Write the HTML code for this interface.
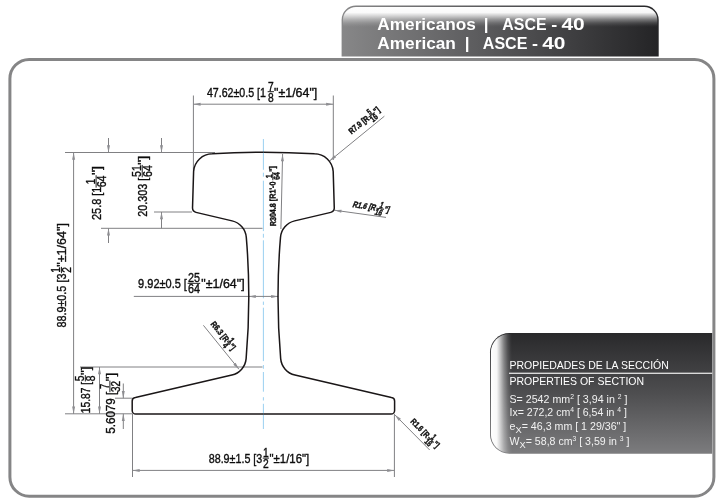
<!DOCTYPE html>
<html>
<head>
<meta charset="utf-8">
<title>ASCE - 40</title>
<style>
html,body{margin:0;padding:0;background:#fff;}
body{width:720px;height:503px;overflow:hidden;}
svg{display:block;will-change:transform;}
text{font-family:"Liberation Sans",sans-serif;}
.dim{fill:#0d0d0d;font-size:12.2px;stroke:#0d0d0d;stroke-width:0.36px;}
.dim rect,.sm rect{stroke:none;}
.sm{fill:#0d0d0d;font-size:8.5px;font-weight:bold;stroke:#0d0d0d;stroke-width:0.42px;}
.ln{stroke:#808083;stroke-width:1;fill:none;}
.ar{fill:#8e8e92;stroke:none;}
.prop{fill:#fff;font-size:10.5px;}
.pv{fill:#f2f2f2;font-size:10.2px;}
</style>
</head>
<body>
<svg width="720" height="503" viewBox="0 0 720 503">
<defs>
  <linearGradient id="gTab" x1="0" y1="0" x2="1" y2="0">
    <stop offset="0" stop-color="#878788"/>
    <stop offset="0.45" stop-color="#5a5a5c"/>
    <stop offset="1" stop-color="#242426"/>
  </linearGradient>
  <linearGradient id="gTabHi" x1="0" y1="0" x2="0" y2="1">
    <stop offset="0" stop-color="#fff" stop-opacity="1"/>
    <stop offset="0.28" stop-color="#fff" stop-opacity="0.96"/>
    <stop offset="0.45" stop-color="#fff" stop-opacity="0.68"/>
    <stop offset="0.62" stop-color="#fff" stop-opacity="0.38"/>
    <stop offset="0.8" stop-color="#fff" stop-opacity="0.14"/>
    <stop offset="0.92" stop-color="#fff" stop-opacity="0.04"/>
    <stop offset="1" stop-color="#fff" stop-opacity="0"/>
  </linearGradient>
  <linearGradient id="gBox" x1="0" y1="0" x2="0" y2="1">
    <stop offset="0" stop-color="#29292b"/>
    <stop offset="0.5" stop-color="#4e4e50"/>
    <stop offset="1" stop-color="#7c7c7e"/>
  </linearGradient>
  <linearGradient id="gBoxHi" x1="0" y1="0" x2="1" y2="0">
    <stop offset="0" stop-color="#fff" stop-opacity="1"/>
    <stop offset="0.28" stop-color="#fff" stop-opacity="0.96"/>
    <stop offset="0.45" stop-color="#fff" stop-opacity="0.68"/>
    <stop offset="0.62" stop-color="#fff" stop-opacity="0.38"/>
    <stop offset="0.8" stop-color="#fff" stop-opacity="0.14"/>
    <stop offset="0.92" stop-color="#fff" stop-opacity="0.04"/>
    <stop offset="1" stop-color="#fff" stop-opacity="0"/>
  </linearGradient>
  <path id="ah" d="M0,0 L7.2,-1.5 L7.2,1.5 Z"/>
</defs>

<!-- header tab -->
<g id="tab">
  <path d="M341.6,56.5 V20 A14.4,14.4 0 0 1 356,5.6 H644.3 A14.4,14.4 0 0 1 658.7,20 V56.5 Z" fill="url(#gTab)"/>
  <path d="M342.9,27 V20 A13.1,13.1 0 0 1 356,6.9 H644.3 A13.1,13.1 0 0 1 657.4,20 V27 Z" fill="url(#gTabHi)"/>
<g font-size="17" font-weight="bold" fill="#fff" lengthAdjust="spacingAndGlyphs">
    <text x="377.3" y="29.7" textLength="98.6" lengthAdjust="spacingAndGlyphs">Americanos</text>
    <text x="483.8" y="29.7">|</text>
    <text x="502.3" y="29.7" textLength="44.2" lengthAdjust="spacingAndGlyphs">ASCE</text>
    <text x="551.3" y="29.7" textLength="6" lengthAdjust="spacingAndGlyphs">-</text>
    <text x="561.4" y="29.7" textLength="23.3" lengthAdjust="spacingAndGlyphs">40</text>
    <text x="377.3" y="48.6" textLength="78.6" lengthAdjust="spacingAndGlyphs">American</text>
    <text x="464.7" y="48.6">|</text>
    <text x="482.8" y="48.6" textLength="44.6" lengthAdjust="spacingAndGlyphs">ASCE</text>
    <text x="532.1" y="48.6" textLength="6" lengthAdjust="spacingAndGlyphs">-</text>
    <text x="542.2" y="48.6" textLength="23.3" lengthAdjust="spacingAndGlyphs">40</text>
  </g>
</g>

<!-- outer frame -->
<rect x="9.9" y="59.4" width="704" height="436.8" rx="19.3" ry="19.3" fill="none" stroke="#858586" stroke-width="3"/>

<!-- properties box -->
<g id="props">
  <path d="M712.2,333 H509.4 A19.4,19.4 0 0 0 490,352.4 V434.4 A19.4,19.4 0 0 0 509.4,453.8 H712.2 Z" fill="url(#gBox)"/>
  <path d="M512,333.9 H509.4 A18.5,18.5 0 0 0 490.9,352.4 V434.4 A18.5,18.5 0 0 0 509.4,452.9 H512 Z" fill="url(#gBoxHi)"/>
  <text class="prop" x="509.5" y="368.7">PROPIEDADES DE LA SECCIÓN</text>
  <rect x="509" y="372.7" width="203.2" height="1.1" fill="#fff"/>
  <text class="prop" x="509.5" y="384.5">PROPERTIES OF SECTION</text>
  <text class="pv" x="509.5" y="402.5" textLength="118" lengthAdjust="spacingAndGlyphs">S= 2542 mm<tspan font-size="6.5" dy="-3.5">2</tspan><tspan dy="3.5"> [ 3,94 in </tspan><tspan font-size="6.5" dy="-3.5">2</tspan><tspan dy="3.5"> ]</tspan></text>
  <text class="pv" x="509.5" y="415.8" textLength="117.5" lengthAdjust="spacingAndGlyphs">Ix= 272,2 cm<tspan font-size="6.5" dy="-3.5">4</tspan><tspan dy="3.5"> [ 6,54 in </tspan><tspan font-size="6.5" dy="-3.5">4</tspan><tspan dy="3.5"> ]</tspan></text>
  <text class="pv" x="509.5" y="429.5" textLength="116.8" lengthAdjust="spacingAndGlyphs">e<tspan font-size="9" dy="3">X</tspan><tspan dy="-3">= 46,3 mm [ 1 29/36" ]</tspan></text>
  <text class="pv" x="509.5" y="444.5" textLength="120" lengthAdjust="spacingAndGlyphs">W<tspan font-size="9" dy="3">X</tspan><tspan dy="-3">= 58,8 cm</tspan><tspan font-size="6.5" dy="-3.5">3</tspan><tspan dy="3.5"> [ 3,59 in </tspan><tspan font-size="6.5" dy="-3.5">3</tspan><tspan dy="3.5"> ]</tspan></text>
</g>

<!-- DRAWING -->
<g id="drawing">
  <!-- centerline -->
  <path d="M263.4,139V169.8 M263.4,172.7V176.7 M263.4,180.7V231.1 M263.4,233.8V237.7 M263.4,240.3V298.3 M263.4,301.6V304.9 M263.4,307.7V361.1 M263.4,365V368.8 M263.4,372V391.7 M263.4,397.2V400.5 M263.4,403.8V429" stroke="#8fcbee" stroke-width="0.9" fill="none"/>

  <!-- extension & dimension lines -->
  <g class="ln">
    <!-- top width -->
    <line x1="193.4" y1="95.5" x2="193.4" y2="171"/>
    <line x1="333.3" y1="95.5" x2="333.3" y2="160"/>
    <line x1="193.4" y1="104.2" x2="333.3" y2="104.2"/>
    <!-- top horizontal ext -->
    <line x1="65" y1="152.5" x2="215" y2="152.5"/>
    <!-- overall height -->
    <line x1="73.6" y1="152.5" x2="73.6" y2="413.8"/>
    <!-- bottom horizontal ext -->
    <line x1="65" y1="413.8" x2="132.5" y2="413.8"/>
    <!-- 25.8 -->
    <line x1="108.5" y1="138" x2="108.5" y2="152.5"/>
    <line x1="108.5" y1="228.3" x2="108.5" y2="243"/>
    <line x1="101" y1="228.3" x2="262.5" y2="228.3"/>
    <!-- 20.303 -->
    <line x1="161.5" y1="138" x2="161.5" y2="152.5"/>
    <line x1="161.5" y1="212" x2="161.5" y2="228.3"/>
    <line x1="154" y1="212" x2="192" y2="212"/>
    <!-- web -->
    <line x1="133.8" y1="296.4" x2="248.6" y2="296.4"/>
    <line x1="248.6" y1="296.4" x2="278.3" y2="296.4"/>
    <!-- 15.87 -->
    <line x1="80" y1="367" x2="262.5" y2="367"/>
    <line x1="99.5" y1="367" x2="99.5" y2="413.8"/>
    <!-- 5.6079 -->
    <line x1="115" y1="398.2" x2="132.5" y2="398.2"/>
    <line x1="123.3" y1="383.5" x2="123.3" y2="398.2"/>
    <line x1="123.3" y1="413.8" x2="123.3" y2="429"/>
    <!-- bottom width -->
    <line x1="132.5" y1="413.8" x2="132.5" y2="477"/>
    <line x1="394.4" y1="413.8" x2="394.4" y2="477"/>
    <line x1="132.5" y1="470.4" x2="394.4" y2="470.4"/>
    <!-- leaders -->
    <line x1="329.5" y1="161" x2="384.4" y2="116.2"/>
    <line x1="334.3" y1="210.2" x2="386" y2="217.4"/>
    <line x1="203.4" y1="325.3" x2="239" y2="369.3"/>
    <line x1="394.8" y1="414.8" x2="429.7" y2="450"/>
    <line x1="282.6" y1="154" x2="280.9" y2="229"/>
  </g>
  <!-- arrowheads -->
  <g class="ar">
    <use href="#ah" transform="translate(193.4,104.2)"/>
    <use href="#ah" transform="translate(333.3,104.2) rotate(180)"/>
    <use href="#ah" transform="translate(73.6,152.5) rotate(90)"/>
    <use href="#ah" transform="translate(73.6,413.8) rotate(-90)"/>
    <use href="#ah" transform="translate(108.5,152.5) rotate(-90)"/>
    <use href="#ah" transform="translate(108.5,228.3) rotate(90)"/>
    <use href="#ah" transform="translate(161.5,152.5) rotate(-90)"/>
    <use href="#ah" transform="translate(161.5,212) rotate(90)"/>
    <use href="#ah" transform="translate(248.6,296.4)"/>
    <use href="#ah" transform="translate(278.3,296.4) rotate(180)"/>
    <use href="#ah" transform="translate(99.5,367) rotate(90)"/>
    <use href="#ah" transform="translate(99.5,413.8) rotate(-90)"/>
    <use href="#ah" transform="translate(123.3,398.2) rotate(-90)"/>
    <use href="#ah" transform="translate(123.3,413.8) rotate(90)"/>
    <use href="#ah" transform="translate(132.5,470.4)"/>
    <use href="#ah" transform="translate(394.4,470.4) rotate(180)"/>
    <use href="#ah" transform="translate(329.5,161) rotate(-39.2)"/>
    <use href="#ah" transform="translate(334.3,210.2) rotate(8)"/>
    <use href="#ah" transform="translate(239,369.3) rotate(-129)"/>
    <use href="#ah" transform="translate(394.8,414.8) rotate(45.2)"/>
    <use href="#ah" transform="translate(282.6,154) rotate(91.3)"/>
  </g>

  <!-- rail profile -->
  <g fill="none" stroke="#1a1617" stroke-width="1.5" stroke-linejoin="round">
    <path id="half" d="M263.4,152.3 A900,900 0 0 1 314.5,153.8 A19,19 0 0 1 333.2,171.5 L334.27,207.85 A4.5,4.5 0 0 1 330.81,212.36 L294.69,220.86 A18.5,18.5 0 0 0 280.50,237.32 Q275.42,297.98 280.67,358.64 A18.5,18.5 0 0 0 294.92,375.07 L391.4,397.4 A3.6,3.6 0 0 1 394.6,401 V410.4 A3.6,3.6 0 0 1 391,414 H263.4"/>
    <use href="#half" transform="translate(526.8,0) scale(-1,1)"/>
  </g>
</g>
<g id="labels">
<g transform="translate(206.9,96.6)" class="dim">
  <text x="0" y="0" textLength="59" lengthAdjust="spacingAndGlyphs">47.62±0.5 [1</text>
  <text x="63.9" y="-6.0" font-size="12" text-anchor="middle" textLength="5.7" lengthAdjust="spacingAndGlyphs">7</text>
  <rect x="60.75" y="-5.35" width="6.30" height="0.9" />
  <text x="63.9" y="4.9" font-size="12" text-anchor="middle" textLength="5.7" lengthAdjust="spacingAndGlyphs">8</text>
  <text x="67.1" y="0" textLength="43.3" lengthAdjust="spacingAndGlyphs">"±1/64"]</text>
</g>
<g transform="translate(138.1,288.2)" class="dim">
  <text x="0" y="0" textLength="48.8" lengthAdjust="spacingAndGlyphs">9.92±0.5 [</text>
  <text x="55.8" y="-6.0" font-size="12" text-anchor="middle" textLength="12.0" lengthAdjust="spacingAndGlyphs">25</text>
  <rect x="49.50" y="-5.35" width="12.60" height="0.9" />
  <text x="55.8" y="4.9" font-size="12" text-anchor="middle" textLength="12.0" lengthAdjust="spacingAndGlyphs">64</text>
  <text x="63.2" y="0" textLength="43.3" lengthAdjust="spacingAndGlyphs">"±1/64"]</text>
</g>
<g transform="translate(208.7,463)" class="dim">
  <text x="0" y="0" textLength="53.6" lengthAdjust="spacingAndGlyphs">88.9±1.5 [3</text>
  <text x="57.2" y="-6.0" font-size="12" text-anchor="middle" textLength="5.7" lengthAdjust="spacingAndGlyphs">1</text>
  <rect x="54.05" y="-5.35" width="6.30" height="0.9" />
  <text x="57.2" y="4.9" font-size="12" text-anchor="middle" textLength="5.7" lengthAdjust="spacingAndGlyphs">2</text>
  <text x="60.8" y="0" textLength="39.7" lengthAdjust="spacingAndGlyphs">"±1/16"]</text>
</g>
<g transform="translate(66.3,327.6) rotate(-90)" class="dim">
  <text x="0" y="0" textLength="54.0" lengthAdjust="spacingAndGlyphs">88.9±0.5 [3</text>
  <text x="57.6" y="-6.0" font-size="12" text-anchor="middle" textLength="5.7" lengthAdjust="spacingAndGlyphs">1</text>
  <rect x="54.45" y="-5.35" width="6.30" height="0.9" />
  <text x="57.6" y="4.9" font-size="12" text-anchor="middle" textLength="5.7" lengthAdjust="spacingAndGlyphs">2</text>
  <text x="60.9" y="0" textLength="43.6" lengthAdjust="spacingAndGlyphs">"±1/64"]</text>
</g>
<g transform="translate(101,220) rotate(-90)" class="dim">
  <text x="0" y="0" textLength="33.4" lengthAdjust="spacingAndGlyphs">25.8 [1</text>
  <text x="38.6" y="-6.0" font-size="12" text-anchor="middle" textLength="5.6" lengthAdjust="spacingAndGlyphs">1</text>
  <rect x="32.40" y="-5.35" width="12.40" height="0.9" />
  <text x="38.6" y="4.9" font-size="12" text-anchor="middle" textLength="11.8" lengthAdjust="spacingAndGlyphs">64</text>
  <text x="45.0" y="0" textLength="9.1" lengthAdjust="spacingAndGlyphs">"]</text>
</g>
<g transform="translate(147.1,216.8) rotate(-90)" class="dim">
  <text x="0" y="0" textLength="39" lengthAdjust="spacingAndGlyphs">20.303 [</text>
  <text x="45.7" y="-6.0" font-size="12" text-anchor="middle" textLength="11.8" lengthAdjust="spacingAndGlyphs">51</text>
  <rect x="39.50" y="-5.35" width="12.40" height="0.9" />
  <text x="45.7" y="4.9" font-size="12" text-anchor="middle" textLength="11.8" lengthAdjust="spacingAndGlyphs">64</text>
  <text x="51.8" y="0" textLength="9.4" lengthAdjust="spacingAndGlyphs">"]</text>
</g>
<g transform="translate(90.2,413.2) rotate(-90)" class="dim">
  <text x="0" y="0" textLength="31.3" lengthAdjust="spacingAndGlyphs">15.87 [</text>
  <text x="34.9" y="-6.0" font-size="12" text-anchor="middle" textLength="5.7" lengthAdjust="spacingAndGlyphs">5</text>
  <rect x="31.75" y="-5.35" width="6.30" height="0.9" />
  <text x="34.9" y="4.9" font-size="12" text-anchor="middle" textLength="5.7" lengthAdjust="spacingAndGlyphs">8</text>
  <text x="38.2" y="0" textLength="8.4" lengthAdjust="spacingAndGlyphs">"]</text>
</g>
<g transform="translate(114.8,433.8) rotate(-90)" class="dim">
  <text x="0" y="0" textLength="42.1" lengthAdjust="spacingAndGlyphs">5.6079 [</text>
  <text x="47.4" y="-6.0" font-size="12" text-anchor="middle" textLength="5.2" lengthAdjust="spacingAndGlyphs">7</text>
  <rect x="41.60" y="-5.35" width="11.60" height="0.9" />
  <text x="47.4" y="4.9" font-size="12" text-anchor="middle" textLength="11.0" lengthAdjust="spacingAndGlyphs">32</text>
  <text x="52.6" y="0" textLength="8.4" lengthAdjust="spacingAndGlyphs">"]</text>
</g>
<g transform="translate(351.5,134.4) rotate(-39.2)" class="sm">
  <text x="0" y="0" textLength="23.5" lengthAdjust="spacingAndGlyphs">R7.9 [R</text>
  <text x="27.9" y="-3.4" font-size="8.8" text-anchor="middle" textLength="3.3" lengthAdjust="spacingAndGlyphs">5</text>
  <rect x="24.00" y="-2.95" width="7.80" height="0.9" />
  <text x="27.9" y="4.3" font-size="8.8" text-anchor="middle" textLength="7.2" lengthAdjust="spacingAndGlyphs">16</text>
  <text x="31.9" y="0" textLength="5.4" lengthAdjust="spacingAndGlyphs">"]</text>
</g>
<g transform="translate(352.1,207) rotate(8.5) skewX(-14)" class="sm">
  <text x="0" y="0" textLength="23" lengthAdjust="spacingAndGlyphs">R1.6 [R</text>
  <text x="27.4" y="-3.4" font-size="8.8" text-anchor="middle" textLength="3.3" lengthAdjust="spacingAndGlyphs">1</text>
  <rect x="23.50" y="-2.95" width="7.80" height="0.9" />
  <text x="27.4" y="4.3" font-size="8.8" text-anchor="middle" textLength="7.2" lengthAdjust="spacingAndGlyphs">16</text>
  <text x="31.4" y="0" textLength="5.3" lengthAdjust="spacingAndGlyphs">"]</text>
</g>
<g transform="translate(210.3,324.2) rotate(51.2)" class="sm">
  <text x="0" y="0" textLength="23.5" lengthAdjust="spacingAndGlyphs">R6.3 [R</text>
  <text x="26.0" y="-3.4" font-size="8.8" text-anchor="middle" textLength="3.8" lengthAdjust="spacingAndGlyphs">1</text>
  <rect x="23.80" y="-2.95" width="4.40" height="0.9" />
  <text x="26.0" y="4.3" font-size="8.8" text-anchor="middle" textLength="3.8" lengthAdjust="spacingAndGlyphs">4</text>
  <text x="28.6" y="0" textLength="5.4" lengthAdjust="spacingAndGlyphs">"]</text>
</g>
<g transform="translate(410,422) rotate(45.2)" class="sm">
  <text x="0" y="0" textLength="23" lengthAdjust="spacingAndGlyphs">R1.6 [R</text>
  <text x="27.4" y="-3.4" font-size="8.8" text-anchor="middle" textLength="3.3" lengthAdjust="spacingAndGlyphs">1</text>
  <rect x="23.50" y="-2.95" width="7.80" height="0.9" />
  <text x="27.4" y="4.3" font-size="8.8" text-anchor="middle" textLength="7.2" lengthAdjust="spacingAndGlyphs">16</text>
  <text x="31.6" y="0" textLength="5.4" lengthAdjust="spacingAndGlyphs">"]</text>
</g>
<g transform="translate(276,226.3) rotate(-90.8)" class="sm">
  <text x="0" y="0" textLength="44.8" lengthAdjust="spacingAndGlyphs">R304.8 [R1'-0</text>
  <text x="50.2" y="-3.4" font-size="8.8" text-anchor="middle" textLength="3.5" lengthAdjust="spacingAndGlyphs">1</text>
  <rect x="46.10" y="-2.95" width="8.20" height="0.9" />
  <text x="50.2" y="4.3" font-size="8.8" text-anchor="middle" textLength="7.6" lengthAdjust="spacingAndGlyphs">64</text>
  <text x="54.5" y="0" textLength="5.8" lengthAdjust="spacingAndGlyphs">"]</text>
</g>
</g>
<!--endlabels-->
</svg>
</body>
</html>
